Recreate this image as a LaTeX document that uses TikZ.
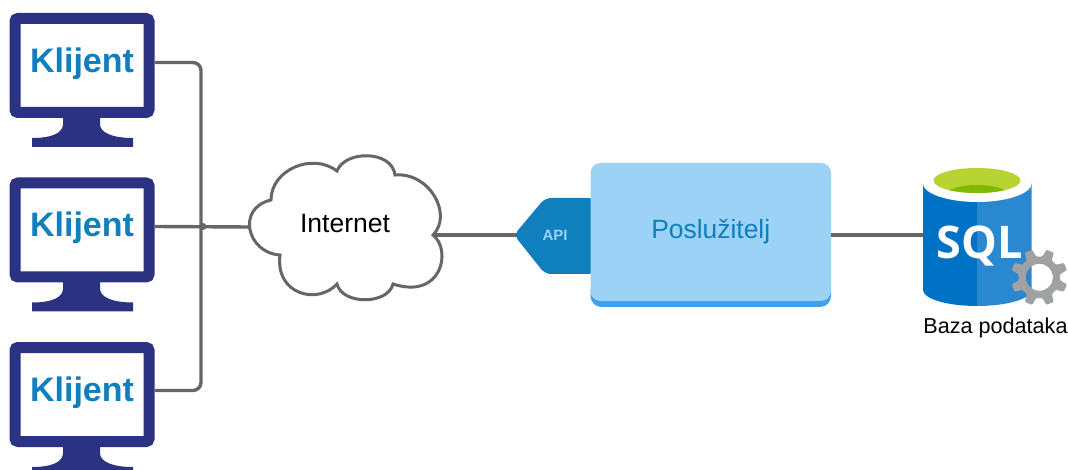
\documentclass[tikz,border=0pt]{standalone}
\usepackage{fontspec}
\setmainfont{Liberation Sans}
\newfontfamily\sqlfont{Open Sans}
\usepackage{tikz}
\usetikzlibrary{positioning}
\definecolor{monitorblue}{HTML}{2B3282}
\definecolor{textblue}{HTML}{0F7FBD}
\definecolor{linegray}{HTML}{666666}
\definecolor{serverlight}{HTML}{9BD2F5}
\definecolor{serverdark}{HTML}{41A0E8}
\definecolor{sqlleft}{HTML}{0072C6}
\definecolor{sqlright}{HTML}{2988D0}
\definecolor{sqlgreen}{HTML}{B8D432}
\definecolor{sqlgreendark}{HTML}{7FBA00}
\definecolor{geargray}{HTML}{A0A1A2}
\tikzset{
    x=1pt, y=-1pt, % coordinates are the pixels of the picture
    veza/.style={draw=linegray, line width=3.4pt}, % sets the properties for each connector
    klijent/.style={draw=monitorblue, fill=white, line width=11pt, rounded corners=3pt, minimum width=134pt, minimum height=94pt, text=textblue, text depth=11pt, font=\bfseries\fontsize{34}{34}\selectfont},
    pics/stalak/.style={code={
        \fill[monitorblue] (-19,-1) -- (-19,6) .. controls (-19,15) and (-30,20) .. (-50,20) -- (-50,29) -- (51,29) -- (51,20) .. controls (31,20) and (18,15) .. (18,6) -- (18,-1) -- cycle;
    }},
}

\begin{document}
\begin{tikzpicture}
\clip (0,0) rectangle (1068,470);

\pic at (82,118) {stalak};
\pic at (82,282.5) {stalak};
\pic at (82,447) {stalak};
\node[klijent] (k1) at (82,65.5) {Klijent};
\node[klijent] (k2) at (82,230) {Klijent};
\node[klijent] (k3) at (82,394.5) {Klijent};

\coordinate (spoj) at (201,226.5);
\coordinate (oblaklijevo) at (250,227);
\coordinate (oblakdesno) at (433,235);
\coordinate (apivrh) at (517,235);

% connectors
\draw[veza, rounded corners=8pt] ([yshift=3pt]k1.east) -| (spoj);
\draw[veza, rounded corners=8pt] ([yshift=4pt]k3.east) -| (spoj);
\draw[veza] ([yshift=3.5pt]k2.east) -- (oblaklijevo);
\fill[linegray] (203,226.5) circle[radius=3.5];
\draw[veza] (oblakdesno) -- (apivrh);

% cloud
\draw[veza, fill=white, line width=3pt] (280,255) .. controls (247,253) and (236,208) .. (271,200)
    .. controls (271,170) and (312,152) .. (337,171)
    .. controls (345,150) and (392,150) .. (395,175)
    .. controls (430,172) and (453,215) .. (433,235)
    .. controls (452,250) and (442,300) .. (393,284)
    .. controls (388,305) and (342,305) .. (337,284)
    .. controls (318,305) and (275,295) .. (280,255) -- cycle;
\node[font=\fontsize{26.5}{26.5}\selectfont] (internet) at (345,224) {Internet};

% server with API
\fill[textblue, rounded corners=6pt] (514,235) -- (545,198) -- (595,198) -- (595,274) -- (545,274) -- cycle;
\node[text=serverlight, font=\bfseries\fontsize{15}{15}\selectfont] (api) at (555,235) {API};
\fill[serverdark, rounded corners=11pt] (590.5,280) rectangle (831,307);
\node[fill=serverlight, rounded corners=10pt, minimum width=240.5pt, minimum height=138pt, text=textblue, font=\fontsize{26.4}{26.4}\selectfont] (posluzitelj) at (710.75,232) {Poslužitelj};
\coordinate (sqllijevo) at (923,235);
\draw[veza] (posluzitelj.east |- sqllijevo) -- (sqllijevo);

% database
\fill[sqlleft] (923,183) -- (923,290) arc[start angle=180, end angle=90, x radius=54, y radius=16] -- (977,183) -- cycle;
\fill[sqlright] (977,183) -- (977,306) arc[start angle=90, end angle=0, x radius=54.5, y radius=16] -- (1031.5,183) -- cycle;
\fill[white] (977.25,183) ellipse[x radius=54.5, y radius=19];
\fill[sqlgreen] (977,180.5) ellipse[x radius=43.5, y radius=12.5];
\begin{scope}
\clip (977,180.5) ellipse[x radius=43.5, y radius=12.5];
\fill[sqlgreendark] (977,197) ellipse[x radius=34, y radius=12];
\end{scope}
\node[text=white, font=\sqlfont\bfseries\fontsize{45}{45}\selectfont] (sql) at (979.5,246) {SQL};

% gear
\begin{scope}[shift={(1039.3,277.3)}]
\fill[geargray, even odd rule, rounded corners=1pt] (0:13.5) arc[start angle=0, end angle=360, radius=13.5] -- cycle
    (8.5:21) \foreach \a in {22.5,67.5,...,337.5} { -- (\a-14:21) -- (\a-8:28.5) -- (\a+8:28.5) -- (\a+14:21) } -- cycle;
\end{scope}

\node[font=\fontsize{21.6}{21.6}\selectfont] (baza) at (995.5,328) {Baza podataka};

\end{tikzpicture}
\end{document}
